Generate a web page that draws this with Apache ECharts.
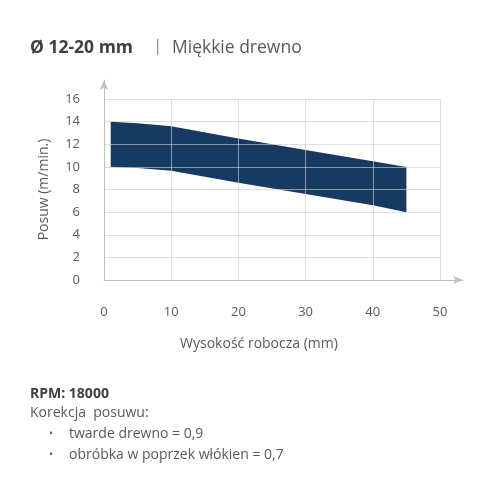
<!DOCTYPE html>
<html>
<head>
<meta charset="utf-8">
<script src="https://cdn.jsdelivr.net/npm/echarts@6/dist/echarts.min.js"></script>
<style>
html,body{margin:0;padding:0;background:#fff;}
#chart{width:500px;height:500px;}
</style>
</head>
<body>
<div id="chart"></div>
<script>
// Data
const heights = [1, 5, 10, 20, 30, 40, 45];             // Wysokość robocza (mm)
const feedMax = [14, 13.85, 13.6, 12.5, 11.5, 10.5, 10]; // upper edge of band (m/min)
const feedMin = [10, 9.9, 9.65, 8.6, 7.6, 6.6, 6];       // lower edge of band (m/min)
const xTicks = [0, 10, 20, 30, 40, 50];
const yTicks = [0, 2, 4, 6, 8, 10, 12, 14, 16];

const titleBold = 'Ø 12-20 mm';
const titleSep = '|';
const titleRest = 'Miękkie drewno';
const rpmText = 'RPM: 18000';
const corrHeader = 'Korekcja  posuwu:';
const corrItems = ['twarde drewno = 0,9', 'obróbka w poprzek włókien = 0,7'];

const FONT = '"Open Sans", "Noto Sans", sans-serif';
const NAVY = '#173a63';
const GRID = 'rgba(205,205,205,0.65)';
const AXIS = '#bfbfbf';
const LABEL = '#595959';

const bandData = heights.map((h, i) => [h, feedMin[i], feedMax[i]]);

const chart = echarts.init(document.getElementById('chart'), null, {renderer: 'canvas'});

const graphics = [
  {type: 'text', left: 30, top: 39, style: {text: titleBold, font: 'bold 17.5px ' + FONT, fill: '#404040'}},
  {type: 'text', left: 153, top: 38, style: {text: titleSep, font: '17px ' + FONT, fill: '#8c8c8c'}},
  {type: 'text', left: 172, top: 39, style: {text: titleRest, font: '17.5px ' + FONT, fill: '#595959'}},
  {type: 'text', left: 30, top: 387, style: {text: rpmText, font: 'bold 14px ' + FONT, fill: '#404040'}},
  {type: 'text', left: 30, top: 406, style: {text: corrHeader, font: '14px ' + FONT, fill: '#595959'}}
];
corrItems.forEach((t, i) => {
  graphics.push({type: 'text', left: 49, top: 428 + i * 21, style: {text: '•', font: '11px ' + FONT, fill: '#595959'}});
  graphics.push({type: 'text', left: 69, top: 427 + i * 21, style: {text: t, font: '14px ' + FONT, fill: '#595959'}});
});

function renderBand(params, api) {
  if (params.dataIndex !== 0) return null;
  const pts = [];
  for (let i = 0; i < bandData.length; i++) pts.push(api.coord([bandData[i][0], bandData[i][2]]));
  for (let i = bandData.length - 1; i >= 0; i--) pts.push(api.coord([bandData[i][0], bandData[i][1]]));
  return {type: 'polygon', shape: {points: pts}, style: {fill: NAVY, stroke: null}};
}

chart.setOption({
  animation: false,
  textStyle: {fontFamily: FONT},
  grid: [
    {left: 104, right: 60, top: 99, bottom: 220},
    {left: 104, right: 37, top: 80, bottom: 220}
  ],
  xAxis: [
    {
      type: 'value', gridIndex: 0, min: xTicks[0], max: xTicks[xTicks.length - 1], interval: 10, z: 5,
      axisLine: {show: false}, axisTick: {show: false},
      axisLabel: {color: LABEL, fontSize: 13, margin: 26, fontFamily: FONT},
      splitLine: {show: true, lineStyle: {color: GRID, width: 1}},
      name: 'Wysokość robocza (mm)', nameLocation: 'middle', nameGap: 57,
      nameTextStyle: {color: LABEL, fontSize: 14, fontFamily: FONT, padding: [0, 26, 0, 0]}
    },
    {
      type: 'value', gridIndex: 1, min: 0, max: 1, z: 5,
      axisLine: {show: true, symbol: ['none', 'arrow'], symbolSize: [6, 10], lineStyle: {color: AXIS, width: 1}},
      axisTick: {show: false}, axisLabel: {show: false}, splitLine: {show: false}
    }
  ],
  yAxis: [
    {
      type: 'value', gridIndex: 0, min: yTicks[0], max: yTicks[yTicks.length - 1], interval: 2, z: 5,
      axisLine: {show: false}, axisTick: {show: false},
      axisLabel: {color: LABEL, fontSize: 13, margin: 24, fontFamily: FONT},
      splitLine: {show: true, lineStyle: {color: GRID, width: 1}},
      name: 'Posuw (m/min.)', nameLocation: 'middle', nameGap: 53,
      nameTextStyle: {color: LABEL, fontSize: 14, fontFamily: FONT}
    },
    {
      type: 'value', gridIndex: 1, min: 0, max: 1, z: 5,
      axisLine: {show: true, symbol: ['none', 'arrow'], symbolSize: [6, 10], lineStyle: {color: AXIS, width: 1}},
      axisTick: {show: false}, axisLabel: {show: false}, splitLine: {show: false}
    }
  ],
  series: [
    {
      type: 'custom', xAxisIndex: 0, yAxisIndex: 0, data: bandData,
      encode: {x: 0, y: [1, 2]}, renderItem: renderBand, z: 2, silent: true, clip: true
    }
  ],
  graphic: graphics
});
</script>
</body>
</html>
